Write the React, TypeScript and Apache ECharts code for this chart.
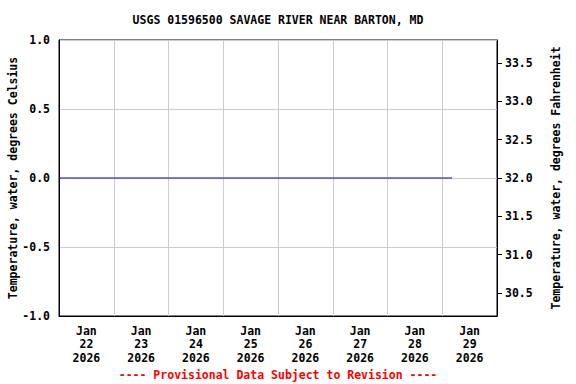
import React, { useEffect, useRef } from "react";
import * as echarts from "echarts";

const DAY = 86400000;
const xStart = "2026-01-22T00:00:00Z";
const xEnd = "2026-01-30T00:00:00Z";
const labelDays = [
  "2026-01-22T12:00:00Z",
  "2026-01-23T12:00:00Z",
  "2026-01-24T12:00:00Z",
  "2026-01-25T12:00:00Z",
  "2026-01-26T12:00:00Z",
  "2026-01-27T12:00:00Z",
  "2026-01-28T12:00:00Z",
  "2026-01-29T12:00:00Z",
];
const obsTimes = [
  "2026-01-22T00:00:00Z",
  "2026-01-23T00:00:00Z",
  "2026-01-24T00:00:00Z",
  "2026-01-25T00:00:00Z",
  "2026-01-26T00:00:00Z",
  "2026-01-27T00:00:00Z",
  "2026-01-28T00:00:00Z",
  "2026-01-29T00:00:00Z",
  "2026-01-29T04:15:00Z",
];
const tempC = [0, 0, 0, 0, 0, 0, 0, 0, 0];
const fTicks = [30.5, 31.0, 31.5, 32.0, 32.5, 33.0, 33.5];
const MONTHS = ["Jan", "Feb", "Mar", "Apr", "May", "Jun", "Jul", "Aug", "Sep", "Oct", "Nov", "Dec"];

const FONT = "DejaVu Sans Mono";

export default function App() {
  const ref = useRef<HTMLDivElement>(null);
  useEffect(() => {
    if (!ref.current) return;
    const chart = echarts.init(ref.current, null, { renderer: "svg" });
    const t0 = Date.parse(xStart);
    const t1 = Date.parse(xEnd);
    const labelTs = labelDays.map((s) => Date.parse(s));
    const txt = { color: "#000", fontFamily: FONT, fontWeight: "bold" as const, fontSize: 11.5 };
    chart.setOption({
      animation: false,
      grid: {
        left: 59, right: 79, top: 40, bottom: 68,
        outerBoundsMode: "none", containLabel: false,
        show: true, borderColor: "#000", borderWidth: 1, backgroundColor: "transparent",
      },
      xAxis: [
        {
          type: "value",
          min: t0,
          max: t1,
          interval: DAY,
          axisLine: { show: true, onZero: false, lineStyle: { color: "#000" } },
          axisTick: { show: false },
          axisLabel: { show: false },
          splitLine: { show: true, lineStyle: { color: "#cccccc", width: 1 } },
        },
        {
          type: "value",
          position: "bottom",
          min: t0,
          max: t1,
          axisLine: { show: false, onZero: false },
          axisTick: { show: false },
          splitLine: { show: false },
          axisLabel: {
            ...txt,
            customValues: labelTs,
            margin: 8,
            lineHeight: 13.5,
            formatter: (v: number) => {
              const d = new Date(v);
              return `${MONTHS[d.getUTCMonth()]}\n${d.getUTCDate()}\n${d.getUTCFullYear()}`;
            },
          },
        },
      ],
      yAxis: [
        {
          type: "value",
          min: -1,
          max: 1,
          interval: 0.5,
          position: "left",
          axisLine: { show: true, onZero: false, lineStyle: { color: "#000" } },
          axisTick: { show: false },
          splitLine: { show: true, lineStyle: { color: "#cccccc", width: 1 } },
          axisLabel: { ...txt, margin: 9, formatter: (v: number) => v.toFixed(1) },
          name: "Temperature, water, degrees Celsius",
          nameLocation: "middle",
          nameGap: 40,
          nameMoveOverlap: false,
          nameTextStyle: { ...txt },
        },
        {
          type: "value",
          min: 30.2,
          max: 33.8,
          position: "right",
          axisLine: { show: true, onZero: false, lineStyle: { color: "#000" } },
          axisTick: { show: true, length: 5, lineStyle: { color: "#000" }, customValues: fTicks },
          splitLine: { show: false },
          axisLabel: { ...txt, margin: 8, customValues: fTicks, formatter: (v: number) => v.toFixed(1) },
          name: "Temperature, water, degrees Fahrenheit",
          nameLocation: "middle",
          nameGap: 53,
          nameRotate: 90,
          nameMoveOverlap: false,
          nameTextStyle: { ...txt },
        },
      ],
      series: [
        {
          type: "line",
          xAxisIndex: 0,
          yAxisIndex: 0,
          data: obsTimes.map((t, i) => [Date.parse(t), tempC[i]]),
          showSymbol: false,
          lineStyle: { color: "#0000cc", width: 1 },
          z: 5,
        },
      ],
      graphic: [
        {
          type: "text",
          x: 278,
          y: 20,
          style: {
            text: "USGS 01596500 SAVAGE RIVER NEAR BARTON, MD",
            textAlign: "center",
            textVerticalAlign: "middle",
            fill: "#000",
            font: `bold 11.5px "${FONT}"`,
          },
        },
        {
          type: "text",
          x: 278,
          y: 375,
          style: {
            text: "---- Provisional Data Subject to Revision ----",
            textAlign: "center",
            textVerticalAlign: "middle",
            fill: "#ff0000",
            font: `bold 11.5px "${FONT}"`,
          },
        },
      ],
    });
    return () => chart.dispose();
  }, []);
  return <div ref={ref} style={{ position: "absolute", left: 0, top: 0, width: 576, height: 384 }} />;
}
